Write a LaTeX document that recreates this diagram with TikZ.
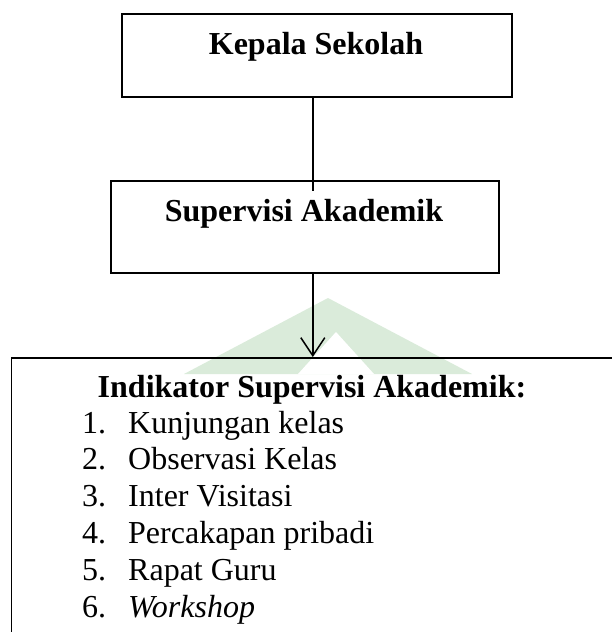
\documentclass[tikz,border=0pt]{standalone}
\usepackage{fontspec}
\setmainfont{Liberation Serif}
\usetikzlibrary{arrows.meta}
\definecolor{wmgreen}{RGB}{218,235,218}
\begin{document}
\begin{tikzpicture}[x=1pt,y=-1pt,
  box/.style={draw, line width=1.6pt, rectangle, inner sep=0pt, anchor=north west},
  lbl/.style={font=\fontsize{32}{36.8}\selectfont\bfseries, inner sep=0pt, anchor=base},
  itemtxt/.style={font=\fontsize{32}{36.8}\selectfont, inner sep=0pt, anchor=base west},
  conn/.style={line width=1.5pt}]
\useasboundingbox (0,0) rectangle (612,632);
\clip (0,0) rectangle (612,632);
% faint watermark
\fill[wmgreen] (328,298) -- (472,374) -- (184,374) -- cycle;
\fill[white] (336,332) -- (374,374) -- (298,374) -- cycle;
% boxes
\node[box, minimum width=390pt, minimum height=83pt] (kepala) at (121,13) {};
\node[box, minimum width=388pt, minimum height=92pt] (sup) at (110,180) {};
\node[box, minimum width=620pt, minimum height=300pt] (ind) at (10.5,357) {};
% labels
\node[lbl] (tkepala) at (316,54) {Kepala Sekolah};
\node[lbl] (tsup) at (304,221) {Supervisi Akademik};
\node[lbl] (tind) at (312,397) {Indikator Supervisi Akademik:};
% items
\node[itemtxt] (n1) at (82,433) {1.};
\node[itemtxt] (i1) at (128,433) {Kunjungan kelas};
\node[itemtxt] (n2) at (82,469.8) {2.};
\node[itemtxt] (i2) at (128,469.8) {Observasi Kelas};
\node[itemtxt] (n3) at (82,506.6) {3.};
\node[itemtxt] (i3) at (128,506.6) {Inter Visitasi};
\node[itemtxt] (n4) at (82,543.4) {4.};
\node[itemtxt] (i4) at (128,543.4) {Percakapan pribadi};
\node[itemtxt] (n5) at (82,580.2) {5.};
\node[itemtxt] (i5) at (128,580.2) {Rapat Guru};
\node[itemtxt] (n6) at (82,617) {6.};
\node[itemtxt] (i6) at (128,617) {\textit{Workshop}};
% connectors
\draw[conn] ([xshift=-4pt]kepala.south) -- ([xshift=8pt,yshift=-11pt]sup.north);
\draw[conn, -{Straight Barb[length=18pt,width=24pt]}] ([xshift=8pt]sup.south) -- ([xshift=8pt]sup.south |- ind.north);
\end{tikzpicture}
\end{document}
